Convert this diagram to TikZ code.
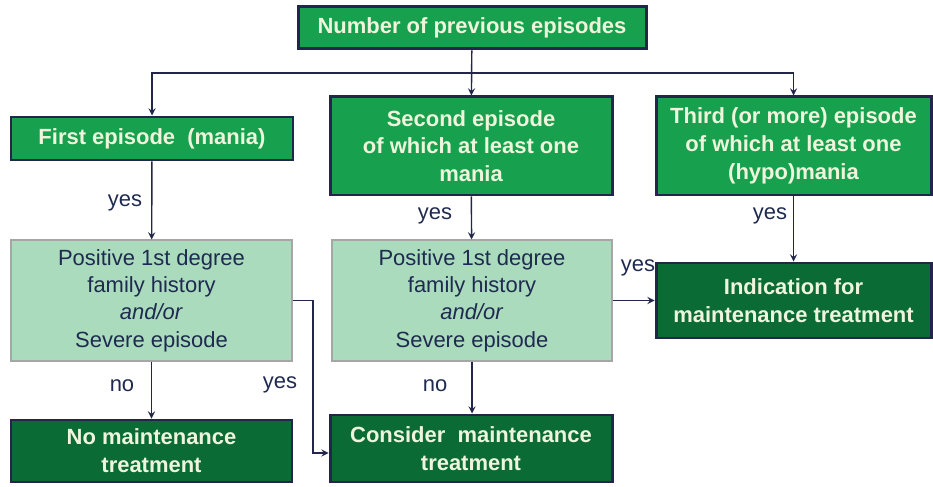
\documentclass[tikz,border=0pt]{standalone}
\usepackage{fontspec}
\setmainfont{Liberation Sans}
\usetikzlibrary{arrows}
\definecolor{navy}{HTML}{22264A}
\definecolor{midgreen}{HTML}{17A04D}
\definecolor{darkgreen}{HTML}{0B6B34}
\definecolor{lightgreen}{HTML}{A9DBBC}
\definecolor{boxtext}{HTML}{EEF5DC}
\definecolor{labeltext}{HTML}{1F2A50}
\begin{document}
\begin{tikzpicture}[
        question/.style={rectangle, draw=navy, line width=1.7pt, fill=midgreen, text=boxtext, font=\fontsize{12.5}{15.8}\selectfont\bfseries, align=center, inner sep=0pt},
        check/.style={rectangle, draw=gray!70, line width=0.6pt, fill=lightgreen, text=labeltext, font=\fontsize{12.5}{15.5}\selectfont, align=center, inner sep=0pt},
        outcome/.style={rectangle, draw=navy, line width=1.7pt, fill=darkgreen, text=boxtext, font=\fontsize{12.5}{15.8}\selectfont\bfseries, align=center, inner sep=0pt},
        answer/.style={text=labeltext, font=\fontsize{12.5}{15}\selectfont},
        arrow/.style={->, >=stealth, line width=0.8pt, navy}
    ]
        \useasboundingbox (0,0) rectangle (18.66,-9.74);

        % === Top ===
        \node[question, minimum width=6.96cm, minimum height=0.84cm] (N) at (9.44,-0.56) {Number of previous episodes};

        % === Episodes ===
        \node[question, minimum width=5.64cm, minimum height=0.86cm] (E1) at (3.04,-2.77) {First episode~~(mania)};
        \node[question, minimum width=5.64cm, minimum height=1.96cm] (E2) at (9.42,-2.92) {Second episode\\of which at least one\\mania};
        \node[question, minimum width=5.5cm, minimum height=1.96cm] (E3) at (15.87,-2.92) {Third (or more) episode\\of which at least one\\(hypo)mania};

        % === Family history / severity ===
        \node[check, minimum width=5.62cm, minimum height=2.42cm] (F1) at (3.03,-6.01) {Positive 1st degree\\family history\\\textit{and/or}\\Severe episode};
        \node[check, minimum width=5.6cm, minimum height=2.42cm] (F2) at (9.44,-6.01) {Positive 1st degree\\family history\\\textit{and/or}\\Severe episode};

        % === Outcomes ===
        \node[outcome, minimum width=5.5cm, minimum height=1.5cm] (IND) at (15.87,-6.01) {Indication for\\maintenance treatment};
        \node[outcome, minimum width=5.62cm, minimum height=1.24cm] (NO) at (3.03,-9.02) {No maintenance\\treatment};
        \node[outcome, minimum width=5.64cm, minimum height=1.34cm] (CON) at (9.42,-8.97) {Consider~~maintenance\\treatment};

        \coordinate (split) at (9.44,-1.46);
        \coordinate (bend) at (6.26,-6.01);

        \draw[arrow] (N) -- (E2);
        \draw[arrow] (split) -| (E1);
        \draw[arrow] (split) -| (E3);
        \draw[arrow] (E1) -- (F1);
        \draw[arrow] (E2) -- (F2);
        \draw[arrow] (E3) -- (IND);
        \draw[arrow] (F2) -- (IND);
        \draw[arrow] (F1) -- (NO);
        \draw[arrow] (F2.south) -- (CON.north -| F2.south);
        \draw[arrow] (F1.east) -- (bend) |- ([yshift=-0.09cm]CON.west);

        \node[answer] (y1) at (2.5,-4.06) {yes};
        \node[answer] (y2) at (8.7,-4.32) {yes};
        \node[answer] (y3) at (15.4,-4.32) {yes};
        \node[answer] (y4) at (12.76,-5.36) {yes};
        \node[answer] (n1) at (2.44,-7.72) {no};
        \node[answer] (y5) at (5.6,-7.7) {yes};
        \node[answer] (n2) at (8.7,-7.72) {no};
\end{tikzpicture}
\end{document}
